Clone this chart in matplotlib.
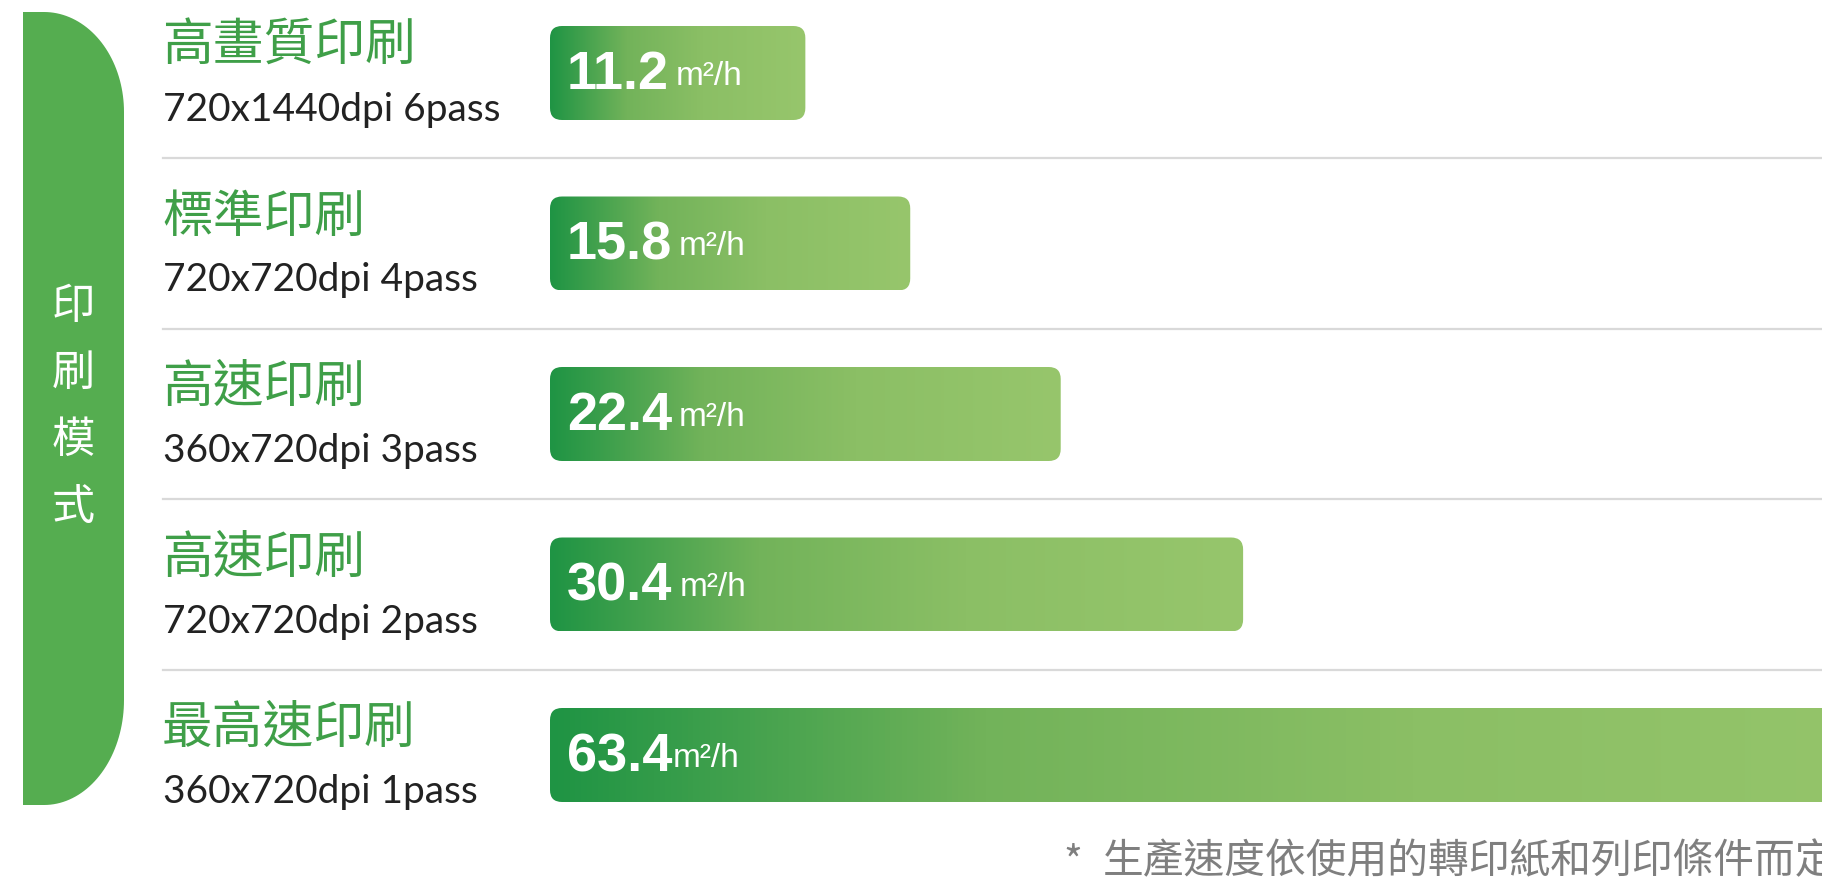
import numpy as np
import matplotlib
matplotlib.use('Agg')
import matplotlib.pyplot as plt
import matplotlib.transforms as mtransforms
from matplotlib.patches import FancyBboxPatch, Polygon
from matplotlib.colors import LinearSegmentedColormap

# chart data
modes = ['高畫質印刷', '標準印刷', '高速印刷', '高速印刷', '最高速印刷']
resolutions = ['720x1440dpi 6pass', '720x720dpi 4pass', '360x720dpi 3pass',
               '720x720dpi 2pass', '360x720dpi 1pass']
speeds = [11.2, 15.8, 22.4, 30.4, 63.4]
unit = 'm²/h'
side_label = '印刷模式'
note_mark = '*'
footnote = '生產速度依使用的轉印紙和列印條件而定'

plt.rcParams['font.family'] = ['Noto Sans CJK TC', 'DejaVu Sans']

W, H = 1822, 891
fig = plt.figure(figsize=(W / 100, H / 100), dpi=100)
fig.patch.set_facecolor('white')

# background axes in pixel units for decoration
bg = fig.add_axes([0, 0, 1, 1])
bg.set_xlim(0, W)
bg.set_ylim(H, 0)
bg.axis('off')

# bar axes: x in m2/h, y in rows
px_per_unit = 22.8
row_px = 170.5
first_px = 73
bar_left = 550
ax = fig.add_axes([bar_left / W, 0, (W - bar_left) / W, 1])
ax.axis('off')

GREEN = '#3f9f48'
cmap = LinearSegmentedColormap.from_list(
    'bar', [(0, '#1f9444'), (0.3, '#72b35a'), (0.6, '#8bbf65'), (1, '#97c66c')])
grad = np.linspace(0, 1, 256).reshape(1, -1)
bar_h = 94 / row_px
aspect = px_per_unit / row_px
radius = 12 / px_per_unit

for i, v in enumerate(speeds):
    patch = FancyBboxPatch((0, i - bar_h / 2), v, bar_h,
                           boxstyle='round,pad=0,rounding_size=%f' % radius,
                           mutation_aspect=aspect, fc='none', ec='none')
    ax.add_patch(patch)
    im = ax.imshow(grad, cmap=cmap, extent=(0, v, i + bar_h / 2, i - bar_h / 2),
                   aspect='auto', interpolation='bilinear')
    im.set_clip_path(patch)

    num = ax.text(17 / px_per_unit, i + 2 / row_px, '%.1f' % v, color='white', fontsize=39,
                  fontweight='bold', family='Liberation Sans', va='center', ha='left')
    gap = 0 if i == len(speeds) - 1 else 5
    ax.annotate(unit, xy=(1, 0), xycoords=num, xytext=(gap, 6), textcoords='offset points',
                color='white', fontsize=24, family='Liberation Sans', va='bottom', ha='left')

ax.set_xlim(0, (W - bar_left) / px_per_unit)
ax.set_ylim((H - first_px) / row_px, -first_px / row_px)

# row labels and separators
trans = mtransforms.blended_transform_factory(bg.transData, ax.transData)
for i, (m, r) in enumerate(zip(modes, resolutions)):
    bg.text(162, i - 26 / row_px, m, transform=trans, color=GREEN, fontsize=36.5,
            fontweight='light', va='center', ha='left')
    bg.text(163, i + 48 / row_px, r, transform=trans, color='#222222', fontsize=28,
            family=['Lato', 'DejaVu Sans'], va='baseline', ha='left')
    if i < len(modes) - 1:
        bg.plot([163, W], [i + 0.5, i + 0.5], transform=trans, color='#d9d9d9', lw=1.6)

# side pill
x0, x1, y0, y1 = 23, 124, 12, 805
rx, ry_t, ry_b = 80, 100, 105
t = np.linspace(0, np.pi / 2, 40)
top = np.column_stack([x1 - rx + rx * np.sin(t), y0 + ry_t - ry_t * np.cos(t)])
bot = np.column_stack([x1 - rx + rx * np.cos(t), y1 - ry_b + ry_b * np.sin(t)])
pts = np.vstack([[[x0, y0]], top, bot, [[x0, y1]]])
bg.add_patch(Polygon(pts, closed=True, fc='#55ad50', ec='none'))

for k, ch in enumerate(side_label):
    bg.text(73, 307 + k * 67, ch, color='white', fontsize=31, va='center', ha='center')

# footnote, runs past the right edge like the source
bg.text(1063, 863, note_mark, color='#7f7f7f', fontsize=29, va='center', ha='left')
bg.text(1103, 862, footnote, color='#7f7f7f', fontsize=29.3, va='center', ha='left')

fig.savefig('out.png', dpi=100)
